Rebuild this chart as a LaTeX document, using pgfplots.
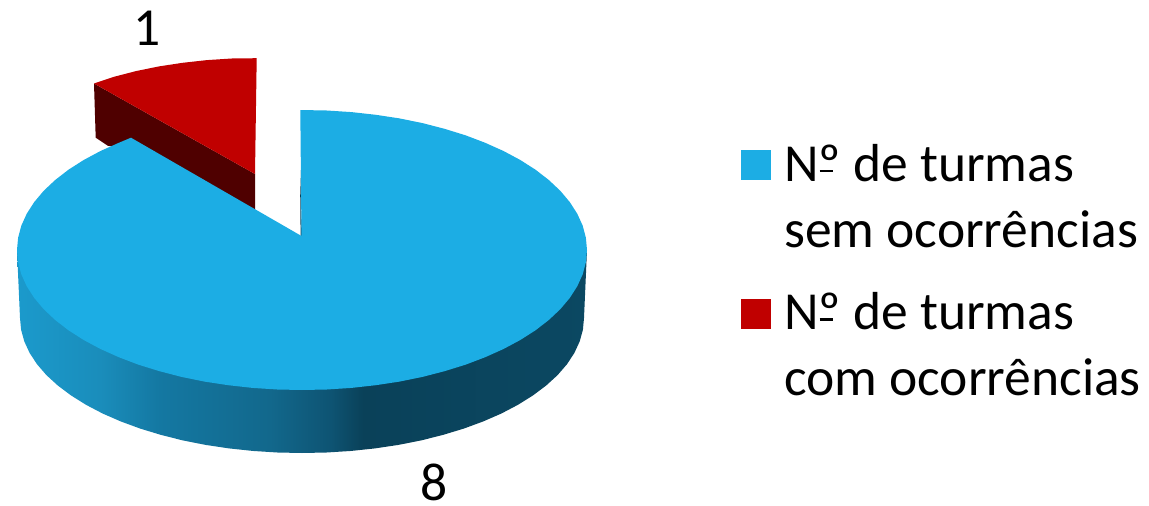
\documentclass[border=0pt]{standalone}
\usepackage{fontspec}
\setmainfont{Carlito}
\usepackage{pgfplots}
\pgfplotsset{compat=1.18}
\definecolor{piblue}{HTML}{1CADE4}
\definecolor{pired}{HTML}{C00000}
\definecolor{pireddark}{HTML}{4F0000}
\definecolor{s0}{HTML}{1B9ACC}
\definecolor{s1}{HTML}{1A8DBB}
\definecolor{s2}{HTML}{1478A2}
\definecolor{s3}{HTML}{12688C}
\definecolor{s4}{HTML}{0E5473}
\definecolor{s5}{HTML}{0A4159}
\definecolor{s6}{HTML}{0B4862}
\pgfdeclarehorizontalshading{pieside}{100bp}{
  color(0bp)=(s0);
  color(25bp)=(s0);
  color(32.3bp)=(s1);
  color(37.5bp)=(s2);
  color(47.2bp)=(s3);
  color(52.5bp)=(s4);
  color(55.35bp)=(s5);
  color(75bp)=(s6);
  color(100bp)=(s6)
}
\newcommand\Numero{N\rlap{\hspace{1pt}\rule[9pt]{13.5pt}{2.6pt}}º}
\begin{document}
\begin{tikzpicture}
\begin{axis}[
  anchor=south west, at={(0,0)},
  scale only axis, width=1149pt, height=506pt,
  xmin=0, xmax=1149, ymin=0, ymax=506, y dir=reverse,
  hide axis, clip=false,
  legend style={
    at={(axis cs:741,142)}, anchor=north west,
    draw=none, fill=none,
    font=\fontsize{53.5}{66}\selectfont,
    cells={anchor=west, align=left},
    row sep=40pt,
    inner sep=0pt,
  },
  legend cell align=left,
  legend image code/.code={
    \path[draw=none, fill=none] (0pt,0pt) rectangle (41pt,1pt);
    \fill[#1, draw=none] (0pt,16.5pt) rectangle (30pt,46.5pt);
  },
]
\addlegendimage{piblue}
\addlegendentry{\Numero{} de turmas\\sem ocorrências}
\addlegendimage{pired}
\addlegendentry{\Numero{} de turmas\\com ocorrências}

% exploded slice (value 1): side wall
\addplot[forget plot, draw=none, fill=pireddark] coordinates {
  (94,83.5) (255,174) (255,210) (131,150) (107.7,145.7) (95.7,137.7)
} -- cycle;
% exploded slice (value 1): top
\addplot[forget plot, draw=none, fill=pired] coordinates {
  (256.7,58.2) (231.7,58.5) (207,60.1) (182.7,62.8) (159,66.4) (136,71.1) (114,76.8) (94,83.5)
  (255,174)
} -- cycle;
% big slice (value 8): rim
\addplot[forget plot, draw=none, shading=pieside] coordinates {
  (17,250) (20,318) (21.1,329.8) (24.3,341.4) (29.6,352.9) (37,364.2) (46.4,375.1) (57.8,385.5)
  (71,395.4) (86,404.8) (102.6,413.5) (120.7,421.4) (140.25,428.6) (161,434.9) (182.8,440.4)
  (205.6,444.9) (229,448.4) (253,450.95) (277.4,452.5) (302,453) (326.6,452.5) (351,450.95)
  (375,448.4) (398.4,444.9) (421.2,440.4) (443,434.9) (463.75,428.6) (483.3,421.4) (501.4,413.5)
  (518,404.8) (533,395.4) (546.2,385.5) (557.6,375.1) (567,364.2) (574.4,352.9) (579.7,341.4)
  (582.9,329.8) (584,318) (587,250)
} -- cycle;
% thin sliver of the rim in the gap
\addplot[forget plot, draw=none, fill=s5] coordinates {
  (300,170) (302,236) (300.6,236)
} -- cycle;
% big slice (value 8): top
\addplot[forget plot, draw=none, fill=piblue] coordinates {
  (301.5,236) (300.3,110) (326.8,110.5) (351.5,112.1) (375.8,114.8) (399.5,118.4) (422.5,123.1)
  (444.5,128.8) (465.5,135.3) (485.2,142.8) (503.5,151) (520.3,160) (535.5,169.7) (548.8,180)
  (560.3,190.8) (569.8,202.1) (577.3,213.8) (582.7,225.7) (585.9,237.8) (587,250) (585.9,262.2)
  (582.7,274.3) (577.3,286.2) (569.8,297.9) (560.3,309.2) (548.8,320) (535.5,330.3) (520.3,340)
  (503.5,349) (485.2,357.2) (465.5,364.7) (444.5,371.2) (422.5,376.9) (399.5,381.6) (375.8,385.2)
  (351.5,387.9) (326.8,389.5) (302,390) (277.2,389.5) (252.5,387.9) (228.2,385.2) (204.5,381.6)
  (181.5,376.9) (159.5,371.2) (138.5,364.7) (118.8,357.2) (100.5,349) (83.7,340) (68.5,330.3)
  (55.2,320) (43.7,309.2) (34.2,297.9) (26.7,286.2) (21.3,274.3) (18.1,262.2) (17,250)
  (18.1,237.8) (21.3,225.7) (26.7,213.8) (34.2,202.1) (43.7,190.8) (55.2,180) (68.5,169.7)
  (83.7,160) (100.5,151) (118.8,142.8) (131,137.7)
} -- cycle;
\node[font=\fontsize{53.5}{66}\selectfont, anchor=base, inner sep=0pt] at (axis cs:147,45) {1};
\node[font=\fontsize{53.5}{66}\selectfont, anchor=base, inner sep=0pt] at (axis cs:434,500) {8};
\end{axis}
\path[use as bounding box] (0,0) rectangle (1149pt,506pt);
\end{tikzpicture}
\end{document}
